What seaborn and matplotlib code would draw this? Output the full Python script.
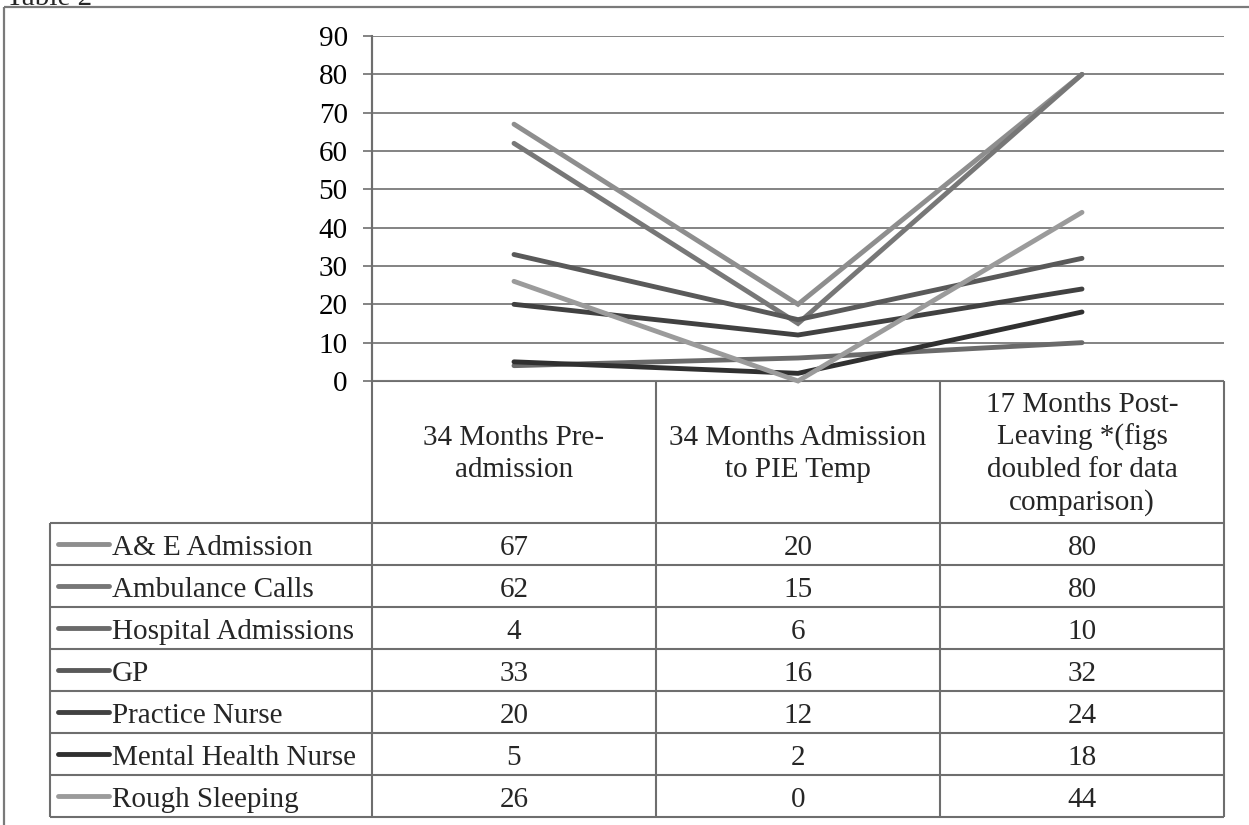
import matplotlib
matplotlib.use("Agg")
import matplotlib.pyplot as plt
import seaborn as sns
import pandas as pd
from matplotlib.lines import Line2D

# ---- data ----
periods = ["34 Months Pre-\nadmission",
           "34 Months Admission\nto PIE Temp",
           "17 Months Post-\nLeaving *(figs\ndoubled for data\ncomparison)"]
series = ["A& E Admission", "Ambulance Calls", "Hospital Admissions", "GP",
          "Practice Nurse", "Mental Health Nurse", "Rough Sleeping"]
ae_admission = [67, 20, 80]
ambulance_calls = [62, 15, 80]
hospital_admissions = [4, 6, 10]
gp = [33, 16, 32]
practice_nurse = [20, 12, 24]
mental_health_nurse = [5, 2, 18]
rough_sleeping = [26, 0, 44]
y_ticks = [0, 10, 20, 30, 40, 50, 60, 70, 80, 90]
colors = ["#8e8e8e", "#777777", "#6a6a6a", "#595959", "#414141", "#303030", "#9b9b9b"]

values = [ae_admission, ambulance_calls, hospital_admissions, gp,
          practice_nurse, mental_health_nurse, rough_sleeping]

rows = []
for name, vals in zip(series, values):
    for i, v in enumerate(vals):
        rows.append({"series": name, "x": i, "value": v})
df = pd.DataFrame(rows)

sns.set_style("white")
plt.rcParams["font.family"] = ["Liberation Serif", "DejaVu Serif"]
FS = 21
LW = 3.5
W, H = 1249, 825
fig = plt.figure(figsize=(W / 100, H / 100), dpi=100)

GRID = "#7a7a7a"
LINE = "#6e6e6e"

# pixel layout
ax_l, ax_r, ax_t, ax_b = 372, 1224, 36, 381
col_edges = [372, 656, 940, 1224]
tab_left = 50
head_bottom = 523
row_h = 42

# overlay axes in pixel coords
tab = fig.add_axes([0, 0, 1, 1], zorder=0)
tab.set_xlim(0, W)
tab.set_ylim(H, 0)
tab.axis("off")

ax = fig.add_axes([ax_l / W, 1 - ax_b / H, (ax_r - ax_l) / W, (ax_b - ax_t) / H], zorder=1)
ax.patch.set_alpha(0)

palette = dict(zip(series, colors))
sns.lineplot(data=df, x="x", y="value", hue="series", hue_order=series,
             palette=palette, linewidth=LW, sort=False, legend=False,
             ax=ax, solid_capstyle="round", solid_joinstyle="miter",
             clip_on=False, zorder=3)
ax.set_xlim(-0.5, len(periods) - 0.5)
ax.set_ylim(y_ticks[0], y_ticks[-1])
ax.set_yticks(y_ticks)
ax.set_xticks([])
ax.set_xlabel("")
ax.set_ylabel("")
ax.yaxis.grid(True, color=GRID, linewidth=1.3)
ax.set_axisbelow(True)
for s in ["top", "right", "bottom"]:
    ax.spines[s].set_visible(False)
ax.spines["left"].set_color(LINE)
ax.spines["left"].set_linewidth(1.5)
ax.tick_params(axis="y", length=6.5, width=1.3, color=GRID, pad=11,
               labelsize=FS, left=True)
for lab in ax.get_yticklabels():
    lab.set_color("black")

def hline(y, x0, x1, lw=1.5, c=LINE):
    tab.add_line(Line2D([x0, x1], [y, y], color=c, linewidth=lw, solid_capstyle="butt"))

def vline(x, y0, y1, lw=1.5, c=LINE):
    tab.add_line(Line2D([x, x], [y0, y1], color=c, linewidth=lw, solid_capstyle="butt"))

# outer border
hline(7, 4, W, lw=1.6, c="#7a7a7a")
vline(4, 7, H, lw=1.6, c="#7a7a7a")
tab.text(6, 5, "Table 2", fontsize=FS, ha="left", va="baseline")

n = len(series)
table_bottom = head_bottom + n * row_h
# table grid
hline(ax_b, ax_l, ax_r)
for k in range(n + 1):
    hline(head_bottom + k * row_h, tab_left, ax_r)
vline(tab_left, head_bottom, table_bottom)
vline(ax_l, ax_t, table_bottom)
for x in col_edges[1:]:
    vline(x, ax_b, table_bottom)

# header
for j, p in enumerate(periods):
    cx = (col_edges[j] + col_edges[j + 1]) / 2
    tab.text(cx, (ax_b + head_bottom) / 2 + 2, p, fontsize=FS, ha="center",
             va="center", multialignment="center", linespacing=1.3)

# rows
for i, (name, vals) in enumerate(zip(series, values)):
    cy = head_bottom + i * row_h + row_h / 2
    tab.add_line(Line2D([58, 109], [cy, cy], color=colors[i], linewidth=LW,
                        solid_capstyle="round"))
    tab.text(112, cy + 1, name, fontsize=FS, ha="left", va="center_baseline")
    for j, v in enumerate(vals):
        cx = (col_edges[j] + col_edges[j + 1]) / 2
        tab.text(cx, cy + 1, str(v), fontsize=FS, ha="center", va="center_baseline")

fig.savefig("out.png", dpi=100, facecolor="white")
